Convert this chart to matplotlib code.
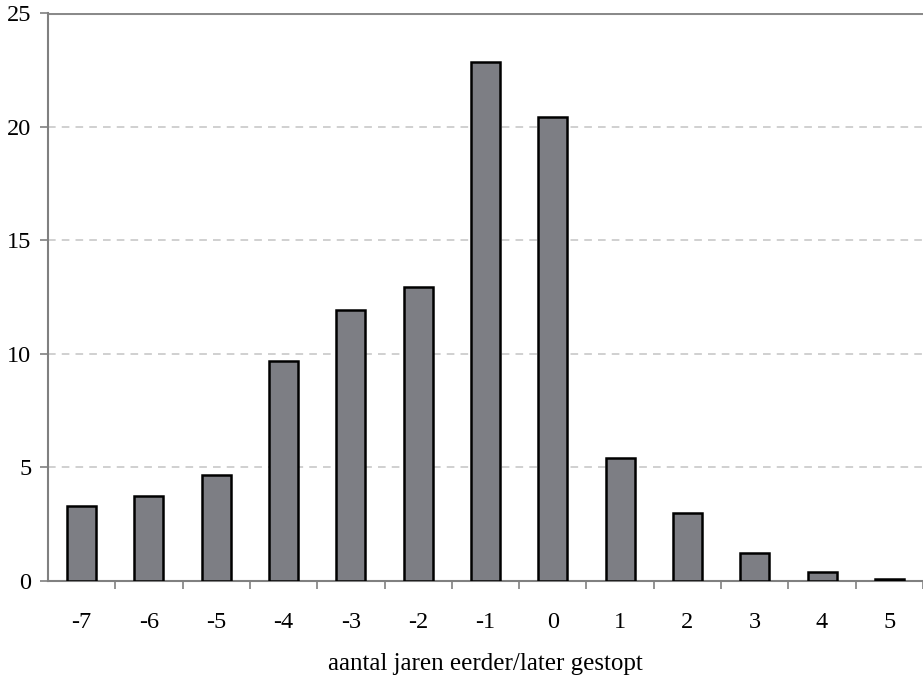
import numpy as np
import matplotlib.pyplot as plt

# jaren eerder/later gestopt
categories = ['-7', '-6', '-5', '-4', '-3', '-2', '-1', '0', '1', '2', '3', '4', '5']
values = [3.3, 3.74, 4.67, 9.68, 11.93, 12.94, 22.84, 20.42, 5.41, 2.99, 1.23, 0.4, 0.09]

plt.rcParams['font.family'] = ['Liberation Serif', 'DejaVu Serif']

fig = plt.figure(figsize=(9.23, 6.79), dpi=100)
ax = fig.add_axes([0.052, 0.1443, 0.948, 0.8367])

x = np.arange(len(categories))
ax.bar(x, values, width=0.43, color='#7d7e84', edgecolor='black', linewidth=1.8, zorder=3)

ax.set_xlim(-0.5, len(categories) - 0.5)
ax.set_ylim(0, 25)

ax.set_yticks([0, 5, 10, 15, 20, 25])
for yv in [5, 10, 15, 20]:
    ax.axhline(yv, color='#c4c4c4', linestyle=(0, (5, 4)), linewidth=1.1, zorder=1)
ax.axhline(25, color='#8a8a8a', linewidth=2.2, zorder=2)

ax.set_xticks(x)
ax.set_xticklabels(categories)
ax.set_xticks(np.arange(-0.5, len(categories), 1.0)[1:], minor=True)
ax.tick_params(axis='x', which='major', length=0, pad=22, labelsize=17.5)
ax.tick_params(axis='x', which='minor', length=6, color='#808080', width=1.2)
ax.tick_params(axis='y', length=6, color='#808080', width=1.2, labelsize=17.5, pad=6)

for side in ['top', 'right']:
    ax.spines[side].set_visible(False)
for side in ['left', 'bottom']:
    ax.spines[side].set_color('#808080')
    ax.spines[side].set_linewidth(1.5)

ax.set_xlabel('aantal jaren eerder/later gestopt', fontsize=18, labelpad=15)

fig.savefig('out.png', dpi=100, facecolor='white')
